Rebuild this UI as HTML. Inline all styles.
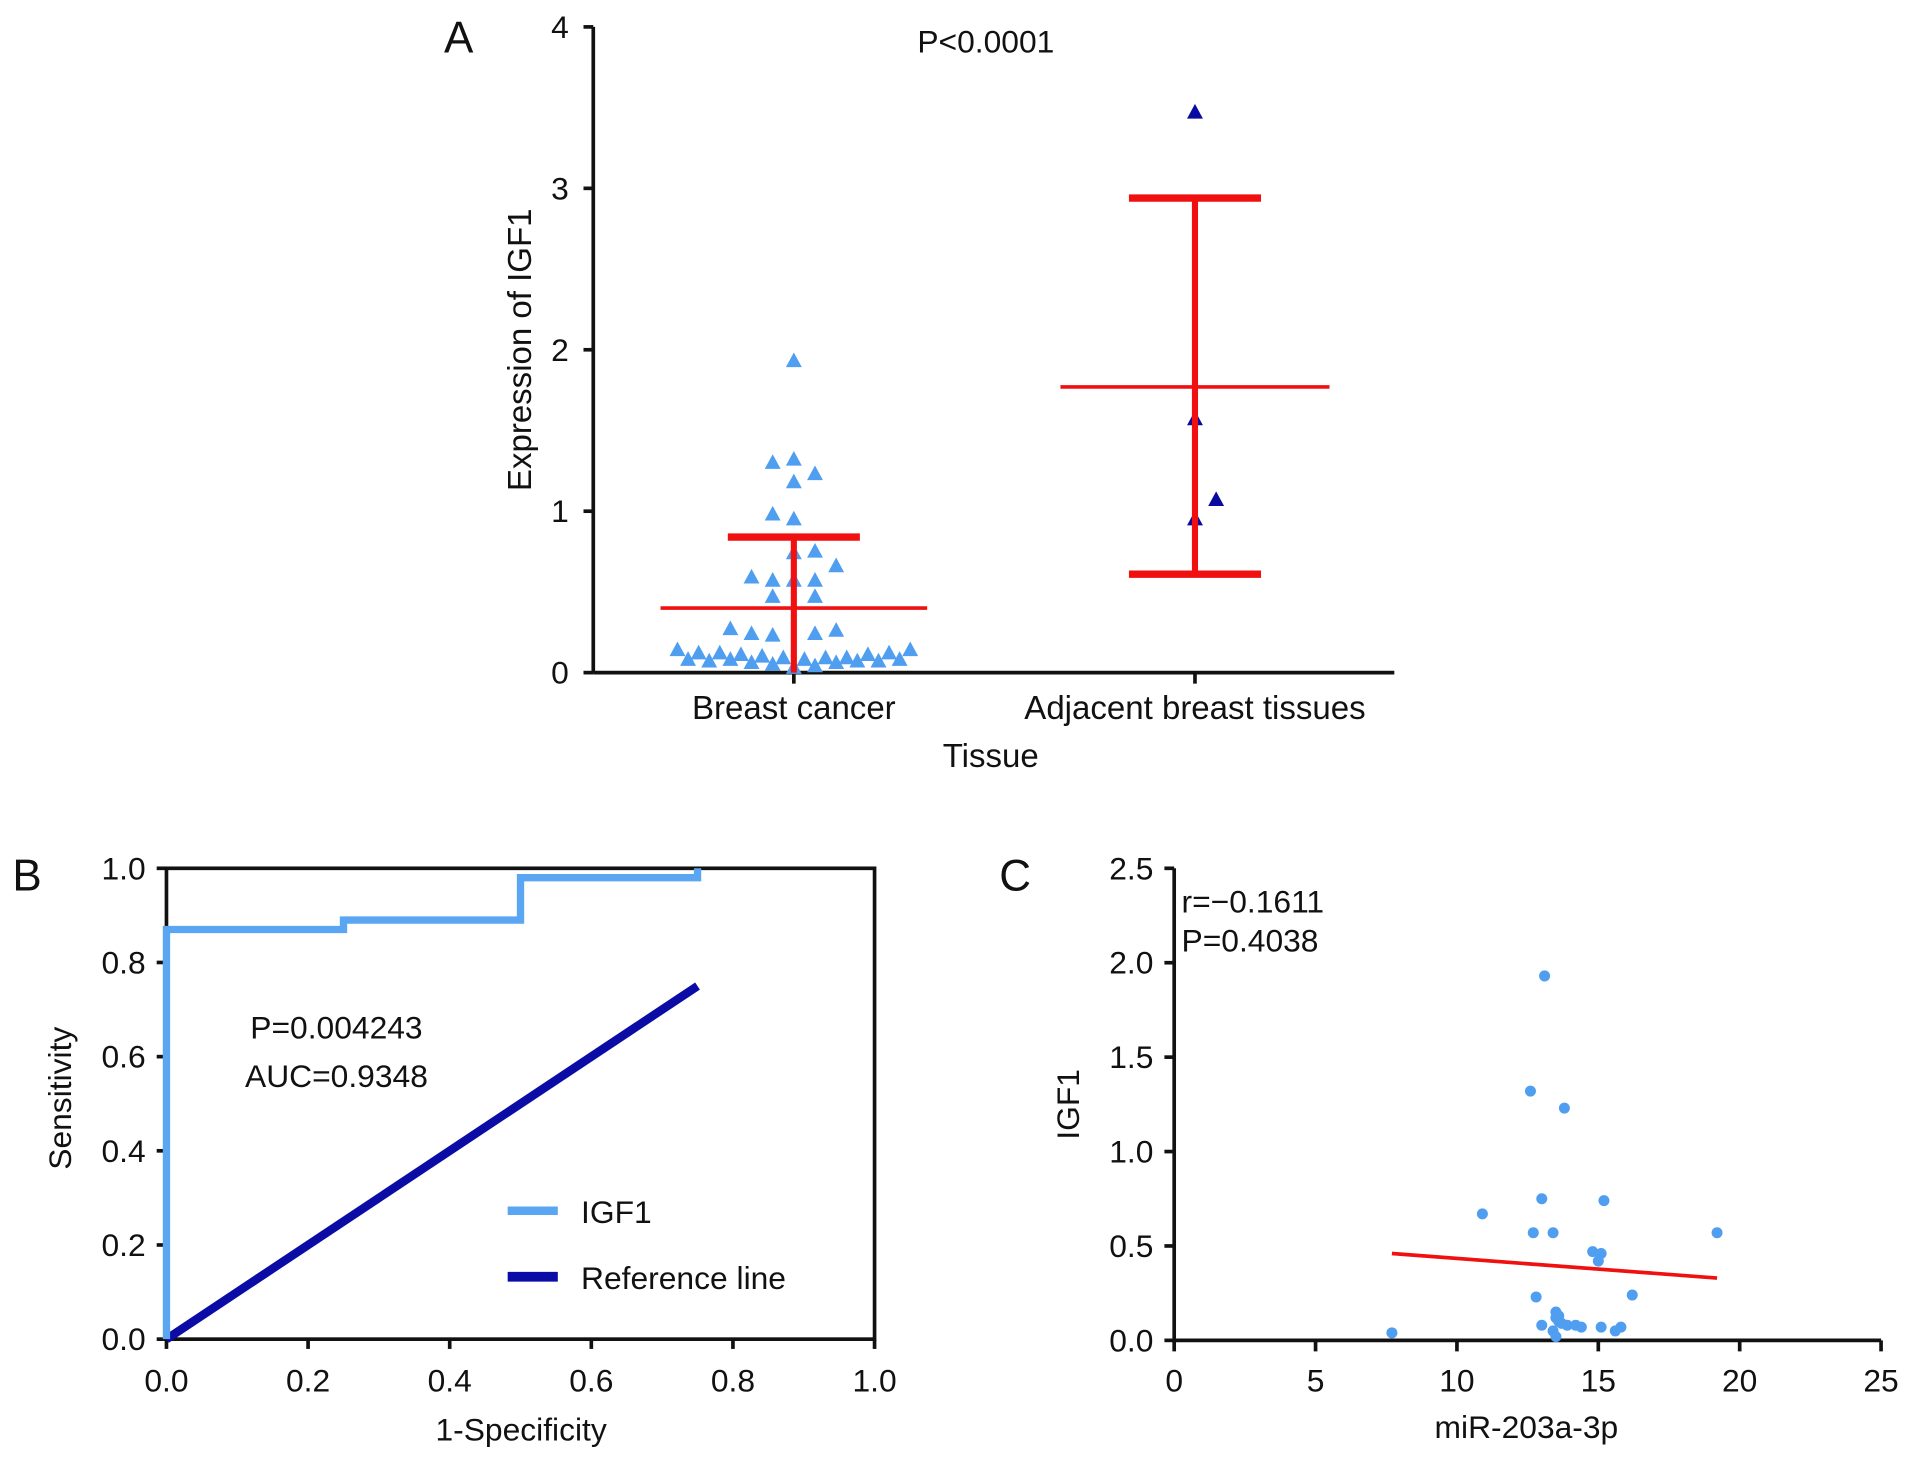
<!DOCTYPE html>
<html><head><meta charset="utf-8"><style>
html,body{margin:0;padding:0;background:#fff;}
svg{display:block;font-family:"Liberation Sans",Arial,sans-serif;}
</style></head><body>
<svg id="fig" width="1913" height="1459" viewBox="0 0 1564 1193" xmlns="http://www.w3.org/2000/svg">
<rect width="1564" height="1193" fill="#fff"/>
<g id="pa"></g>
<g id="pb"></g>
<g id="pc"></g>
</svg>
<script>
// ---- Panel A data ----
const aCategories = ["Breast cancer", "Adjacent breast tissues"];
const aYTicks = [0, 1, 2, 3, 4];
const aCancerValues = [1.93,1.30,1.32,1.23,1.18,0.98,0.95,0.74,0.75,0.66,0.59,0.57,0.57,0.57,0.47,0.47,0.27,0.24,0.23,0.24,0.26,
  0.14,0.08,0.12,0.07,0.12,0.08,0.11,0.06,0.10,0.05,0.09,0.03,0.08,0.04,0.09,0.06,0.09,0.07,0.11,0.07,0.12,0.08,0.14];
const aCancerJitter = [0,-1,0,1,0,-1,0,0,1,2,-2,-1,0,1,-1,1,-3,-2,-1,1,2,
  -5.5,-5,-4.5,-4,-3.5,-3,-2.5,-2,-1.5,-1,-0.5,0,0.5,1,1.5,2,2.5,3,3.5,4,4.5,5,5.5];
const aAdjValues = [3.47, 1.57, 0.95, 1.07];
const aAdjJitter = [0, 0, 0, 1];
const aMeans = [0.40, 1.77];
const aUpper = [0.84, 2.94];
const aLower = [0.00, 0.61];
// ---- Panel B data ----
const bTicks = [0, 0.2, 0.4, 0.6, 0.8, 1.0];
const bRocX = [0, 0, 0.25, 0.25, 0.5, 0.5, 0.75, 0.75];
const bRocY = [0, 0.87, 0.87, 0.89, 0.89, 0.98, 0.98, 1.0];
const bRefX = [0, 0.75];
const bRefY = [0, 0.75];
// ---- Panel C data ----
const cXTicks = [0, 5, 10, 15, 20, 25];
const cYTicks = [0, 0.5, 1.0, 1.5, 2.0, 2.5];
const cX = [13.1,12.6,13.8,13.0,15.2,10.9,12.7,13.4,19.2,14.8,15.1,15.0,12.8,16.2,7.7,13.0,13.5,13.5,13.6,13.7,13.9,14.2,14.4,15.1,15.6,15.8,13.4,13.5,13.6];
const cY = [1.93,1.32,1.23,0.75,0.74,0.67,0.57,0.57,0.57,0.47,0.46,0.42,0.23,0.24,0.04,0.08,0.15,0.12,0.10,0.09,0.08,0.08,0.07,0.07,0.05,0.07,0.05,0.02,0.13];
const cFitX = [7.7, 19.2];
const cFitY = [0.46, 0.33];

const NS = "http://www.w3.org/2000/svg";
function mk(parent, tag, attrs, text) {
  const e = document.createElementNS(NS, tag);
  for (const k in attrs) e.setAttribute(k, attrs[k]);
  if (text !== undefined) e.textContent = text;
  parent.appendChild(e);
  return e;
}
function txt(p, x, y, s, size, anchor, name, rot) {
  const t = mk(p, "text", {x:x, y:y, "font-size":size, "text-anchor":anchor||"middle", fill:"#111"}, s);
  if (rot) t.setAttribute("transform", `rotate(-90 ${x} ${y})`);
  
  
  return t;
}

// ===== Panel A =====
(function(){
  const g = document.getElementById("pa");
  const ax0 = 485, ax1 = 1140, ay0 = 550, ay1 = 22;
  const yS = v => ay0 - (v / 4) * (ay0 - ay1);
  const catX = [649, 977];
  const jit = 17.3;
  let e = mk(g, "line", {x1:ax0, y1:ay1, x2:ax0, y2:ay0, stroke:"#111", "stroke-width":3});
   
  e = mk(g, "line", {x1:ax0, y1:ay0, x2:ax1, y2:ay0, stroke:"#111", "stroke-width":3});
   
  aYTicks.forEach(v => {
    mk(g, "line", {x1:ax0-8, y1:yS(v), x2:ax0, y2:yS(v), stroke:"#111", "stroke-width":3});
    txt(g, ax0-20, yS(v)+9, String(v), 26, "end", "y-tick-label");
  });
  aCategories.forEach((c, i) => {
    mk(g, "line", {x1:catX[i], y1:ay0, x2:catX[i], y2:ay0+9, stroke:"#111", "stroke-width":3});
    txt(g, catX[i], 588, c, 27, "middle", "x-tick-label");
  });
  txt(g, 810, 627, "Tissue", 27, "middle", "x-axis-title");
  txt(g, 434, 286, "Expression of IGF1", 27, "middle", "y-axis-title", true);
  txt(g, 375, 43, "A", 36, "middle", "panel-label-a");
  txt(g, 806, 43, "P<0.0001", 26, "middle", "p-value-a");
  function tri(x, y, col, name) {
    const t = mk(g, "polygon", {points:`${x},${y-7} ${x-6.5},${y+5} ${x+6.5},${y+5}`, fill:col});
    
    
  }
  aCancerValues.forEach((v, i) => tri(catX[0] + aCancerJitter[i]*jit, yS(v), "#4f9ef0", "cancer-point"));
  aAdjValues.forEach((v, i) => tri(catX[1] + aAdjJitter[i]*jit, yS(v), "#0a0aa0", "adjacent-point"));
  const meanHalf = [109, 110], capHalf = 54;
  [0,1].forEach(i => {
    const x = catX[i];
    e = mk(g, "line", {x1:x-meanHalf[i], y1:yS(aMeans[i]), x2:x+meanHalf[i], y2:yS(aMeans[i]), stroke:"#f01010", "stroke-width":3});
     
    e = mk(g, "line", {x1:x, y1:yS(aUpper[i]), x2:x, y2:yS(aLower[i]), stroke:"#f01010", "stroke-width":5});
     
    e = mk(g, "line", {x1:x-capHalf, y1:yS(aUpper[i]), x2:x+capHalf, y2:yS(aUpper[i]), stroke:"#f01010", "stroke-width":6});
     
    if (aLower[i] > 0.01) {
      e = mk(g, "line", {x1:x-capHalf, y1:yS(aLower[i]), x2:x+capHalf, y2:yS(aLower[i]), stroke:"#f01010", "stroke-width":6});
       
    }
  });
})();

// ===== Panel B =====
(function(){
  const g = document.getElementById("pb");
  const x0 = 136, x1 = 715, y0 = 1095, y1 = 710;
  const xS = v => x0 + v*(x1-x0), yS = v => y0 - v*(y0-y1);
  let e = mk(g, "rect", {x:x0, y:y1, width:x1-x0, height:y0-y1, fill:"none", stroke:"#111", "stroke-width":3});
   
  bTicks.forEach(v => {
    mk(g, "line", {x1:x0-8, y1:yS(v), x2:x0, y2:yS(v), stroke:"#111", "stroke-width":3});
    txt(g, x0-17, yS(v)+9, v.toFixed(1), 26, "end", "y-tick-label");
    mk(g, "line", {x1:xS(v), y1:y0, x2:xS(v), y2:y0+8, stroke:"#111", "stroke-width":3});
    txt(g, xS(v), 1138, v.toFixed(1), 26, "middle", "x-tick-label");
  });
  txt(g, 426, 1178, "1-Specificity", 26, "middle", "x-axis-title");
  txt(g, 58, 898, "Sensitivity", 26, "middle", "y-axis-title", true);
  txt(g, 22, 728, "B", 36, "middle", "panel-label-b");
  txt(g, 275, 849, "P=0.004243", 26, "middle", "p-value-b");
  txt(g, 275, 889, "AUC=0.9348", 26, "middle", "auc-value");
  e = mk(g, "polyline", {points: bRefX.map((v,i)=>`${xS(v)},${yS(bRefY[i])}`).join(" "), fill:"none", stroke:"#0b0ba6", "stroke-width":7});
   
  e = mk(g, "polyline", {points: bRocX.map((v,i)=>`${xS(v)},${yS(bRocY[i])}`).join(" "), fill:"none", stroke:"#5aa6f2", "stroke-width":6});
   
  e = mk(g, "line", {x1:415, y1:990, x2:456, y2:990, stroke:"#5aa6f2", "stroke-width":7});
   
  txt(g, 475, 1000, "IGF1", 26, "start", "legend-entry-igf1");
  e = mk(g, "line", {x1:415, y1:1044, x2:456, y2:1044, stroke:"#0b0ba6", "stroke-width":8});
   
  txt(g, 475, 1054, "Reference line", 26, "start", "legend-entry-reference");
})();

// ===== Panel C =====
(function(){
  const g = document.getElementById("pc");
  const x0 = 960, x1 = 1538, y0 = 1096, y1 = 710;
  const xS = v => x0 + (v/25)*(x1-x0), yS = v => y0 - (v/2.5)*(y0-y1);
  let e = mk(g, "line", {x1:x0, y1:y1, x2:x0, y2:y0, stroke:"#111", "stroke-width":3});
   
  e = mk(g, "line", {x1:x0, y1:y0, x2:x1, y2:y0, stroke:"#111", "stroke-width":3});
   
  cYTicks.forEach(v => {
    mk(g, "line", {x1:x0-8, y1:yS(v), x2:x0, y2:yS(v), stroke:"#111", "stroke-width":3});
    txt(g, x0-17, yS(v)+9, v.toFixed(1), 26, "end", "y-tick-label");
  });
  cXTicks.forEach(v => {
    mk(g, "line", {x1:xS(v), y1:y0, x2:xS(v), y2:y0+9, stroke:"#111", "stroke-width":3});
    txt(g, xS(v), 1138, String(v), 26, "middle", "x-tick-label");
  });
  txt(g, 1248, 1176, "miR-203a-3p", 26, "middle", "x-axis-title");
  txt(g, 882, 903, "IGF1", 26, "middle", "y-axis-title", true);
  txt(g, 830, 728, "C", 36, "middle", "panel-label-c");
  txt(g, 966, 746, "r=\u22120.1611", 26, "start", "r-value");
  txt(g, 966, 778, "P=0.4038", 26, "start", "p-value-c");
  cX.forEach((v, i) => {
    const c = mk(g, "circle", {cx:xS(v), cy:yS(cY[i]), r:4.5, fill:"#4f9ef0"});
    
    
  });
  e = mk(g, "line", {x1:xS(cFitX[0]), y1:yS(cFitY[0]), x2:xS(cFitX[1]), y2:yS(cFitY[1]), stroke:"#f01010", "stroke-width":3});
   
})();
</script>
</body></html>
